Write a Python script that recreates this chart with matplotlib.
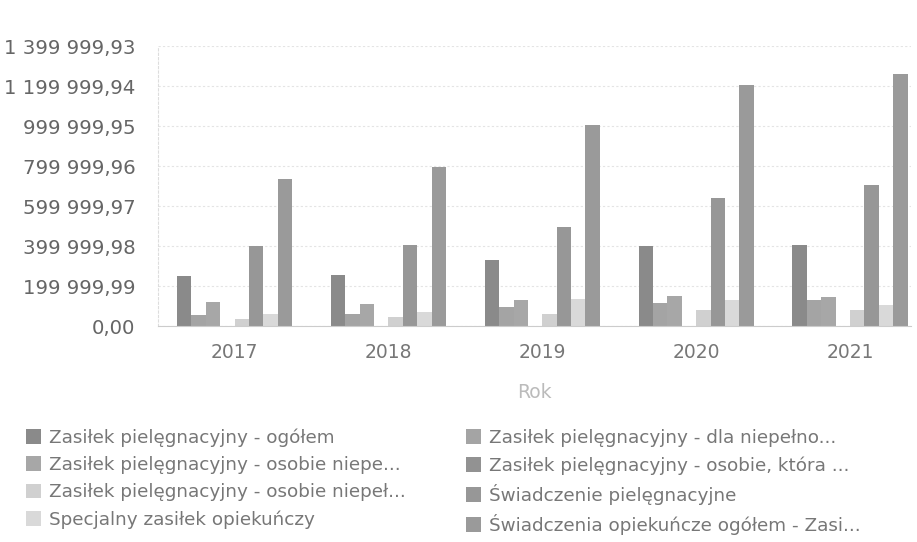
import numpy as np
import matplotlib
matplotlib.use("Agg")
from matplotlib import pyplot as plt

# data
years = ["2017", "2018", "2019", "2020", "2021"]
series_names = [
    "Zasiłek pielęgnacyjny - ogółem",
    "Zasiłek pielęgnacyjny - dla niepełno...",
    "Zasiłek pielęgnacyjny - osobie niepe...",
    "Zasiłek pielęgnacyjny - osobie, która ...",
    "Zasiłek pielęgnacyjny - osobie niepeł...",
    "Świadczenie pielęgnacyjne",
    "Specjalny zasiłek opiekuńczy",
    "Świadczenia opiekuńcze ogółem - Zasi...",
]
zp_ogolem = [251000, 255000, 333000, 401000, 408000]
zp_dziecko = [58000, 63000, 96000, 118000, 130000]
zp_niepe = [121000, 113000, 130000, 150000, 146000]
zp_75lat = [0, 0, 0, 0, 0]
zp_niepel = [38000, 46000, 60000, 83000, 80000]
swiadczenie_piel = [401000, 408000, 496000, 641000, 705000]
specjalny = [60000, 71000, 138000, 133000, 105000]
opiekuncze_ogolem = [738000, 796000, 1005000, 1205000, 1258000]

y_ticks = [0, 199999.99, 399999.98, 599999.97, 799999.96, 999999.95,
           1199999.94, 1399999.93]
y_labels = ["0,00", "199 999,99", "399 999,98", "599 999,97", "799 999,96",
            "999 999,95", "1 199 999,94", "1 399 999,93"]

values = [zp_ogolem, zp_dziecko, zp_niepe, zp_75lat,
          zp_niepel, swiadczenie_piel, specjalny, opiekuncze_ogolem]
colors = ["#8a8a8a", "#a4a4a4", "#a7a7a7", "#929292",
          "#d0d0d0", "#979797", "#d9d9d9", "#9a9a9a"]

fig = plt.figure(figsize=(9.17, 5.42), dpi=100)
ax = fig.add_axes([0.172, 0.398, 0.822, 0.517])

x = np.arange(len(years))
w = 0.0936
handles = []
for i, (vals, col) in enumerate(zip(values, colors)):
    h = ax.bar(x + (i - 3.5) * w, vals, w, color=col, label=series_names[i])
    handles.append(h)

ax.set_xlim(-0.5, 4.4)
ax.set_ylim(0, y_ticks[-1])
ax.set_yticks(y_ticks)
ax.set_yticklabels(y_labels, fontsize=14.2, color="#666666")
ax.set_xticks(x)
ax.set_xticklabels(years, fontsize=13.5, color="#777777")
ax.tick_params(axis="y", length=0, pad=16)
ax.tick_params(axis="x", length=0, pad=12)
ax.set_xlabel("Rok", fontsize=13.5, color="#bbbbbb", labelpad=15)

ax.grid(axis="y", color="#e4e4e4", linestyle=(0, (2, 2)), linewidth=0.8)
ax.set_axisbelow(True)
for s in ["top", "right"]:
    ax.spines[s].set_visible(False)
ax.spines["left"].set_color("#dddddd")
ax.spines["left"].set_linestyle((0, (2, 2)))
ax.spines["bottom"].set_color("#cccccc")

# row-major order in a two column legend
order = [0, 2, 4, 6, 1, 3, 5, 7]
leg = fig.legend([handles[i] for i in order], [series_names[i] for i in order],
                 loc="upper left", bbox_to_anchor=(0.01, 0.24), ncol=2,
                 frameon=False, fontsize=13.2, handlelength=0.85, handleheight=0.85,
                 handletextpad=0.4, labelspacing=0.5, columnspacing=3.3)
for t in leg.get_texts():
    t.set_color("#777777")

fig.savefig("out.png", dpi=100)
